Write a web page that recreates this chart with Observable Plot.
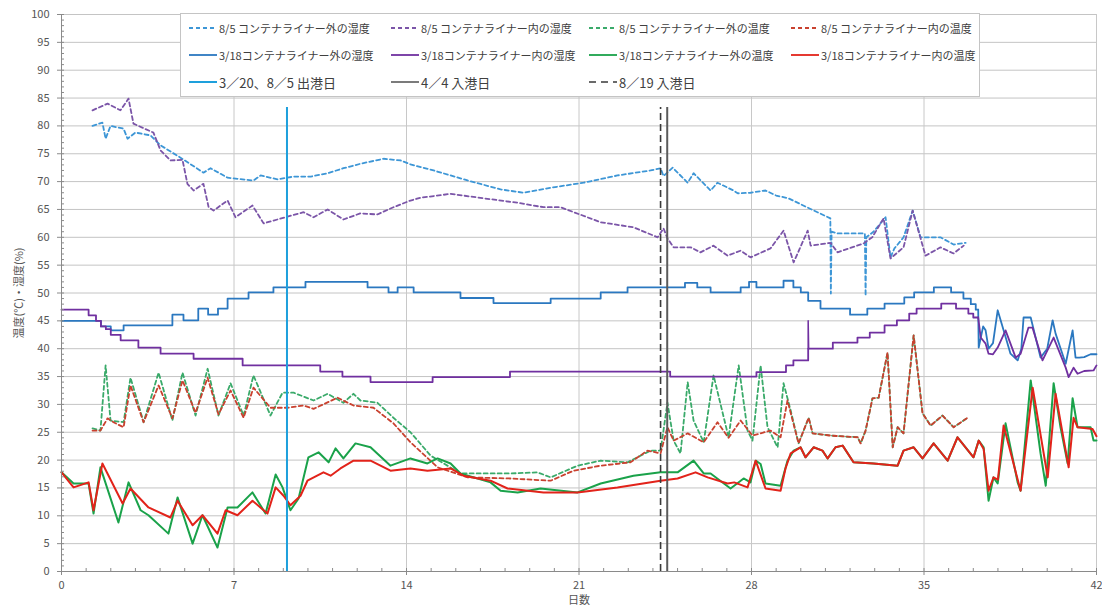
<!DOCTYPE html>
<html><head><meta charset="utf-8">
<script src="https://cdn.jsdelivr.net/npm/d3@7"></script>
<script src="https://cdn.jsdelivr.net/npm/@observablehq/plot@0.6"></script>
<style>
body{margin:0;background:#fff;font-family:"Noto Sans CJK JP",sans-serif;}
#wrap{position:relative;width:1102px;height:612px;overflow:hidden;}
#legend{position:absolute;left:180px;top:13px;width:800px;height:84px;border:1px solid #c4c4c4;background:#fff;box-sizing:border-box;}
.item{position:absolute;display:flex;align-items:center;height:20px;color:#404040;white-space:nowrap;font-size:11px;}
.item.big{font-size:13px;}
.item svg{margin-right:2px;flex:none;}
</style></head><body><div id="wrap"></div>
<script>
// ---------- tick labels ----------
const dayTicks = [0, 7, 14, 21, 28, 35, 42];
const yTicks = [0,5,10,15,20,25,30,35,40,45,50,55,60,65,70,75,80,85,90,95,100];

// ---------- event lines (day) ----------
const departureDay = 9.15;      // 3/20, 8/5 出港日
const arrival44Day = 24.58;     // 4/4 入港日
const arrival819Day = 24.31;    // 8/19 入港日
const eventTop = 83.3;

// ---------- 8/5 voyage (dashed) ----------
const hum85Out = [[1.26,80],[1.66,80.6],[1.79,77.7],[1.99,80],[2.52,79.5],[2.68,77.7],[3.0,78.8],[3.61,78.3],[4.02,76.5],[4.83,74.3],[5.76,71.6],[6.05,72.4],[6.74,70.7],[7.79,70.2],[8.08,71.1],[8.77,70.4],[9.42,70.9],[10.11,70.9],[10.8,71.5],[11.44,72.4],[12.13,73.2],[13.07,74.1],[13.76,73.8],[14.16,73.1],[15.1,72],[16.48,70.2],[17.82,68.6],[18.75,68],[19.85,68.9],[21.19,69.8],[22.56,71.1],[23.9,72],[24.31,72.4],[24.43,71],[24.8,72.5],[25.41,69.8],[25.65,71.5],[26.34,68.4],[26.62,69.8],[27.27,68.4],[27.44,67.9],[27.96,68],[28.57,68.4],[29.0,67.5],[29.5,67],[30.2,65.5],[31.2,63.4],[31.22,49.9],[31.25,61],[31.49,60.7],[32.43,60.7],[32.6,60.7],[32.63,49.5],[32.66,60],[32.95,61],[33.44,63.6],[33.64,56.4],[33.8,58],[34.17,60],[34.54,64.8],[34.86,60],[35.67,60],[36.2,58.7],[36.69,59]];
const hum85In = [[1.26,82.8],[1.87,84],[2.39,82.8],[2.72,84.9],[2.92,80.4],[3.73,78.8],[4.02,75.6],[4.42,73.8],[4.91,73.9],[5.11,69.6],[5.36,68.4],[5.76,69.6],[5.97,65.4],[6.17,64.8],[6.74,66.6],[7.06,63.6],[7.75,65.7],[8.2,62.5],[9.17,63.7],[9.82,64.5],[10.23,63.6],[10.8,65],[11.44,63.2],[12.13,64.3],[12.82,64.1],[13.47,65.4],[14.16,66.6],[14.57,67.1],[15.79,67.8],[17.13,67],[18.51,66.2],[19.56,65.4],[20.25,65.4],[21.88,62.7],[23.21,61.8],[24.19,60],[24.43,61.6],[24.59,59.8],[24.84,58.2],[25.53,58.2],[25.93,57.3],[26.46,58.5],[27.03,56.7],[27.56,57.6],[27.96,56.4],[28.77,58],[29.3,61.2],[29.71,55.5],[30.28,61.2],[30.4,58.5],[31.21,59],[31.49,57.3],[32.55,58.9],[32.9,60],[33.36,63.4],[33.64,56.2],[34.17,58.2],[34.54,64.8],[35.06,56.7],[35.67,58.2],[36.2,57.1],[36.61,58.5]];
const temp85Out = [[1.26,25.7],[1.58,25.3],[1.79,37],[1.99,27.1],[2.52,26.8],[2.8,34.8],[3.33,26.8],[3.94,35.7],[4.5,27.1],[4.91,35.7],[5.44,28],[5.93,36.4],[6.37,28],[6.86,33.8],[7.39,28],[7.79,35.2],[8.48,28],[8.97,32.1],[9.42,32.1],[10.23,30.7],[10.8,31.9],[11.44,30.3],[11.85,31.9],[12.13,30.7],[12.82,30.3],[13.47,27.6],[14.16,25],[14.98,20.8],[16.19,17.6],[18.22,17.6],[19.32,17.8],[19.85,16.9],[20.94,19],[21.88,19.9],[22.97,19.6],[23.9,21.7],[24.31,21.7],[24.59,30.3],[24.84,23.5],[25.12,21.2],[25.41,34],[25.65,27.1],[26.06,23.2],[26.46,35.2],[27.07,24.1],[27.48,37],[27.84,25.3],[28.04,23.5],[28.37,37],[28.65,25.9],[29.06,22.3],[29.3,33.8],[29.59,28.9],[29.91,23],[30.32,27.6],[30.48,24.8],[31.21,24.4],[32.31,24.1],[32.43,23],[32.63,25.3],[32.91,31.1],[33.16,31.2],[33.52,39.3],[33.73,22.3],[33.93,25.9],[34.17,24.8],[34.58,42.4],[34.94,28.4],[35.27,26.2],[35.75,28],[36.2,25.9],[36.77,27.6]];
const temp85In = [[1.26,25.3],[1.58,25.3],[1.87,27.5],[2.11,26.8],[2.52,25.9],[2.8,33.4],[3.33,26.8],[3.94,33.4],[4.5,27.5],[4.91,34.3],[5.44,28.5],[5.93,34.8],[6.37,28.2],[6.86,32.5],[7.39,27.6],[7.79,33],[8.48,29.4],[9.17,29.4],[9.82,29.8],[10.23,29.2],[11.2,31.2],[11.85,29.8],[12.66,29.4],[13.47,26.6],[14.16,23.2],[15.26,18.7],[16.48,16.9],[18.22,16.7],[19.85,16.3],[20.78,18.1],[21.88,19],[23.09,19.6],[23.78,21.7],[24.31,21.2],[24.59,25.9],[24.84,23.5],[25.41,24.8],[26.06,23.2],[26.62,26.8],[27.07,24],[27.56,27.1],[27.88,25.3],[28.04,24.4],[28.77,25.3],[29.18,24.1],[29.46,30.7],[29.91,23],[30.32,27.6],[30.48,24.8],[31.21,24.4],[32.31,24.1],[32.43,23],[32.63,25.3],[32.91,31.1],[33.16,31.2],[33.52,39.3],[33.73,22.3],[33.93,25.9],[34.17,24.8],[34.58,42.4],[34.94,28.4],[35.27,26.2],[35.75,28],[36.2,25.9],[36.77,27.6]];

// ---------- 3/18 voyage (solid) ----------
// humidity: stepped part (value holds from day) + oscillating tail
const hum318OutSteps = [[0,45],[1.6,44],[2.0,43.3],[2.52,44.2],[4.5,46.1],[4.95,45.1],[5.55,47.2],[5.95,46.1],[6.35,47.2],[6.74,49],[7.59,50.1],[8.6,51],[9.9,52],[12.42,51],[13.27,50.1],[13.64,51],[14.29,50.1],[16.19,49.1],[17.53,48.2],[19.85,49],[21.88,50.1],[22.97,51],[25.3,51.8],[25.8,51],[26.34,50.1],[27.56,51],[27.9,52],[28.2,51],[29.3,52.2],[29.7,51],[30.0,50.1],[30.3,48.6],[30.8,47.2],[32.0,46.1],[32.7,47.2],[33.4,48.1],[34.2,49.2],[34.6,50.1],[35.4,51],[36.1,50.1],[36.6,49],[36.9,48],[37.1,47],[37.2,47]];
const hum318OutTail = [[37.2,47],[37.22,40.2],[37.4,44],[37.5,43.3],[37.62,40],[37.8,41],[37.99,46.9],[38.23,43.3],[38.51,39.1],[38.8,37.9],[38.95,40],[39.04,45.6],[39.33,45.6],[39.73,38.4],[40.0,40],[40.22,45.1],[40.34,42.7],[40.75,37.3],[41.03,43.3],[41.15,38.4],[41.3,38.4],[41.5,38.5],[41.76,39],[42,39]];
const hum318InSteps = [[0,47],[1.1,46],[1.4,45],[1.6,44],[1.8,43.5],[2.0,42.5],[2.4,41.5],[3.12,40.2],[4.02,39.1],[5.36,38.2],[7.35,37],[10.5,35.9],[11.4,35],[12.54,34],[15.06,34.9],[18.2,35.9],[24.7,35],[28.2,35.8],[29.4,37],[29.7,37.9],[30.3,40],[31.3,41.1],[32.3,42],[32.8,42.9],[33.4,44.2],[33.9,45.1],[34.4,46.3],[34.7,47.2],[35.7,48.1],[36.3,47.2],[36.8,46.3],[37.0,45.6],[37.2,45.6]];
const hum318InTail = [[37.2,45.6],[37.3,42],[37.5,40.9],[37.62,39.1],[37.8,39],[37.99,40.2],[38.31,43.3],[38.72,38.4],[38.92,39.1],[39.24,43.8],[39.4,43.8],[39.81,37.9],[40.26,42],[40.75,36.6],[40.87,34.9],[41.07,36.6],[41.23,35.5],[41.5,36],[41.88,36.1],[42,37]];
const hum318InSpike = [[30.3,40],[30.3,45],[30.32,40]];
const temp318Out = [[0,17.8],[0.49,15.8],[1.1,15.8],[1.3,10.4],[1.58,18.7],[2.31,8.8],[2.72,16],[3.21,11],[3.53,10.1],[4.34,6.8],[4.71,13.3],[5.32,5],[5.72,10.1],[6.33,4.3],[6.74,11.5],[7.14,11.5],[7.75,14.2],[8.28,10.4],[8.69,17.4],[8.97,15.1],[9.29,11],[9.62,13.1],[10.02,20.5],[10.43,21.4],[10.84,19.6],[11.12,22.1],[11.44,20.3],[11.93,23],[12.54,22.3],[13.35,19],[14.16,20.3],[14.85,19.4],[15.26,20.3],[15.79,19.4],[16.19,17.6],[17.41,16],[17.82,14.5],[18.51,14.2],[19.44,14.9],[20.94,14.2],[21.88,15.8],[23.21,17.2],[24.31,17.8],[25.0,17.8],[25.65,19.9],[26.06,17.6],[26.34,17.6],[27.15,14.9],[27.68,16.7],[27.96,16],[28.17,19.9],[28.37,19.3],[28.57,15.8],[29.18,15.4],[29.46,19.9],[29.71,21.7],[29.99,22.3],[30.19,20.5],[30.52,22.3],[30.88,21.7],[31.09,20.3],[31.41,22.3],[31.7,22.6],[32.14,19.6],[32.95,19.4],[33.93,19],[34.17,21.7],[34.58,22.3],[34.94,20.3],[35.39,23],[35.96,19.9],[36.36,24.1],[37.01,20.5],[37.22,23.5],[37.42,22.3],[37.62,12.7],[37.82,16.9],[37.99,15.8],[38.31,26.6],[38.8,16],[38.92,14.5],[39.33,34.3],[39.73,21.2],[39.94,15.4],[40.26,33.8],[40.54,25.9],[40.83,19.4],[41.03,31.1],[41.23,25.9],[41.76,25.9],[41.88,23.5],[42,23.5]];
const temp318In = [[0,17.8],[0.49,15.1],[1.1,16],[1.3,11],[1.66,19.4],[2.48,12.2],[2.8,14.9],[3.53,11.5],[4.42,9.7],[4.71,12.7],[5.32,8.3],[5.72,10.1],[6.33,6.8],[6.66,11],[7.14,10.1],[7.75,12.7],[8.36,10.4],[8.69,15.1],[9.01,13.6],[9.29,11.9],[9.7,13.6],[9.98,16.3],[10.63,17.8],[10.92,17.2],[11.32,18.5],[11.85,19.9],[12.54,19.9],[13.35,18.1],[14.16,18.5],[14.85,18.1],[15.79,18.5],[16.31,17.2],[17.41,16.3],[18.1,14.9],[19.56,14.2],[20.94,14.2],[22.56,15.1],[24.31,16.3],[25.0,16.7],[25.73,17.8],[26.22,16.9],[27.03,15.8],[27.3,16],[27.84,15.1],[28.17,19.9],[28.57,14.9],[29.18,14.5],[29.38,18.5],[29.59,21.2],[29.99,22.3],[30.19,20.5],[30.52,22.3],[30.88,21.7],[31.09,20.3],[31.41,22.3],[31.7,22.6],[32.14,19.6],[32.95,19.4],[33.93,19],[34.17,21.7],[34.58,22.3],[34.94,20.3],[35.39,23],[35.96,19.9],[36.36,24.1],[37.01,20.5],[37.22,23.5],[37.42,22],[37.62,14.5],[37.82,16.9],[38.0,16.5],[38.23,26.2],[38.92,14.5],[39.41,33],[40.02,16.9],[40.34,31.9],[40.87,18.7],[41.07,27.6],[41.23,25.9],[41.84,25.6],[42,24.3]];

// ---------- legend labels ----------
const legendRow1 = ["8/5 コンテナライナー外の湿度","8/5 コンテナライナー内の湿度","8/5 コンテナライナー外の温度","8/5 コンテナライナー内の温度"];
const legendRow2 = ["3/18コンテナライナー外の湿度","3/18コンテナライナー内の湿度","3/18コンテナライナー外の温度","3/18コンテナライナー内の温度"];
const legendRow3 = ["3／20、8／5 出港日","4／4 入港日","8／19 入港日"];

// ---------- styles ----------
const C = {
  blueD:"#3d96d6", purpleD:"#7b55a8", greenD:"#3aaa6a", redD:"#c9412f",
  blue:"#2b78c0", purple:"#7030a0", green:"#1aa24a", red:"#e2231a",
  dep:"#1ea0dc", arr:"#5a5a5a", arrD:"#3a3a3a"
};
const DASH = "4,3";
const X = d => d[0], Y = d => d[1];

const chart = Plot.plot({
  width: 1102, height: 612,
  marginLeft: 61, marginRight: 6, marginTop: 14, marginBottom: 41,
  style: {fontFamily: '"Noto Sans CJK JP", sans-serif', fontSize: "11px", color: "#555", background: "#fff"},
  x: {domain: [0, 42]},
  y: {domain: [0, 100]},
  marks: [
    Plot.gridY(yTicks.filter(d => d > 0), {stroke: "#c4c4c4", strokeOpacity: 1}),
    Plot.gridX(dayTicks.filter(d => d > 0), {stroke: "#c8c8c8", strokeOpacity: 1}),
    // 8/5 dashed series
    Plot.line(hum85Out, {x: X, y: Y, stroke: C.blueD, strokeWidth: 1.8, strokeDasharray: DASH}),
    Plot.line(hum85In, {x: X, y: Y, stroke: C.purpleD, strokeWidth: 1.8, strokeDasharray: DASH}),
    Plot.line(temp85Out, {x: X, y: Y, stroke: C.greenD, strokeWidth: 1.8, strokeDasharray: DASH}),
    Plot.line(temp85In, {x: X, y: Y, stroke: C.redD, strokeWidth: 1.8, strokeDasharray: DASH}),
    // 3/18 solid series
    Plot.line(hum318OutSteps, {x: X, y: Y, stroke: C.blue, strokeWidth: 1.8, curve: "step-after"}),
    Plot.line(hum318OutTail, {x: X, y: Y, stroke: C.blue, strokeWidth: 1.8}),
    Plot.line(hum318InSteps, {x: X, y: Y, stroke: C.purple, strokeWidth: 1.8, curve: "step-after"}),
    Plot.line(hum318InTail, {x: X, y: Y, stroke: C.purple, strokeWidth: 1.8}),
    Plot.line(hum318InSpike, {x: X, y: Y, stroke: C.purple, strokeWidth: 1.5}),
    Plot.line(temp318Out, {x: X, y: Y, stroke: C.green, strokeWidth: 2}),
    Plot.line(temp318In, {x: X, y: Y, stroke: C.red, strokeWidth: 2}),
    // event lines
    Plot.ruleX([departureDay], {y1: 0, y2: eventTop, stroke: C.dep, strokeWidth: 2}),
    Plot.ruleX([arrival819Day], {y1: 0, y2: eventTop, stroke: C.arrD, strokeWidth: 1.6, strokeDasharray: "7,4"}),
    Plot.ruleX([arrival44Day], {y1: 0, y2: eventTop, stroke: C.arr, strokeWidth: 2}),
    // axes
    Plot.ruleX([0], {stroke: "#8a8a8a"}),
    Plot.ruleY([0], {stroke: "#8a8a8a"}),
    Plot.axisY(d3.range(0, 101, 1), {tickSize: -3, text: null, label: null, stroke: "#8a8a8a"}),
    Plot.axisY(yTicks, {tickSize: 4, tickPadding: 8, label: "温度(℃)・湿度(%)", labelAnchor: "center", labelArrow: "none", labelOffset: 46, stroke: "#8a8a8a", fill: "#555"}),
    Plot.axisX(d3.range(0, 43, 1), {tickSize: -3, text: null, label: null, stroke: "#8a8a8a"}),
    Plot.axisX(dayTicks, {tickSize: 4, tickPadding: 6, label: "日数", labelAnchor: "center", labelArrow: "none", labelOffset: 32, stroke: "#8a8a8a", fill: "#555"})
  ]
});

const wrap = document.getElementById("wrap");
wrap.appendChild(chart);

// ---------- legend ----------
const legend = document.createElement("div");
legend.id = "legend";
wrap.appendChild(legend);
const colX = [8, 210, 408, 610];
const rowY = [4, 31, 58];
function sample(color, dash, width) {
  return `<svg width="28" height="10"><line x1="0" y1="5" x2="28" y2="5" stroke="${color}" stroke-width="${width}" ${dash ? `stroke-dasharray="${dash}"` : ""}/></svg>`;
}
function addItem(col, row, label, color, dash, width, big) {
  const el = document.createElement("div");
  el.className = "item" + (big ? " big" : "");
  el.style.left = colX[col] + "px";
  el.style.top = rowY[row] + "px";
  el.innerHTML = sample(color, dash, width) + `<span>${label}</span>`;
  legend.appendChild(el);
}
const row1Colors = [C.blueD, C.purpleD, C.greenD, C.redD];
const row2Colors = [C.blue, C.purple, C.green, C.red];
legendRow1.forEach((t, i) => addItem(i, 0, t, row1Colors[i], DASH, 1.8, false));
legendRow2.forEach((t, i) => addItem(i, 1, t, row2Colors[i], null, 1.8, false));
addItem(0, 2, legendRow3[0], C.dep, null, 2, true);
addItem(1, 2, legendRow3[1], C.arr, null, 1.6, true);
addItem(2, 2, legendRow3[2], C.arrD, "7,5", 1.6, true);
</script></body></html>
